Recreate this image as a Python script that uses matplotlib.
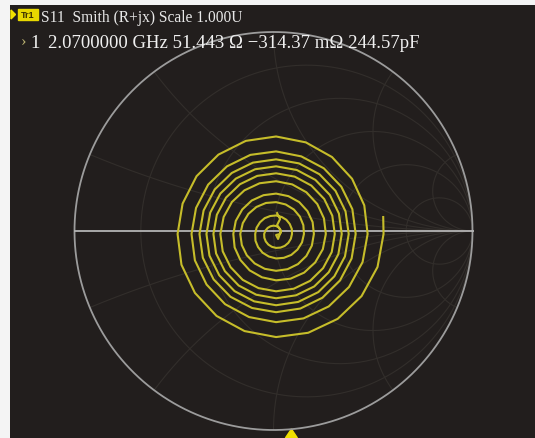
import matplotlib
matplotlib.use('Agg')
import matplotlib.pyplot as plt
from matplotlib.patches import Rectangle, Polygon
import numpy as np

# header text
trace_label = 'Tr1'
title_text = 'S11  Smith (R+jx) Scale 1.000U'
marker_no = '1'
marker_text = '2.0700000 GHz 51.443 \u03a9 \u2212314.37 m\u03a9 244.57pF'

# smith grid values
r_values = [0.2, 0.5, 1.0, 2.0, 5.0]
x_values = [0.2, 0.5, 1.0, 2.0, 5.0]

# trace: small loop at the centre (gamma re, im)
loop_re = [0.018, 0.033, 0.018, 0.038, 0.023, 0.013]
loop_im = [0.090, 0.060, 0.030, 0.000, -0.040, -0.020]

# trace: spiral, |gamma - centre| read every 18 deg, one row per turn
spiral_centre = (0.013, -0.015)
turn_angles = [0, 18, 36, 54, 72, 90, 108, 126, 144, 162,
               180, 198, 216, 234, 252, 270, 288, 306, 324, 342]
turn_radii = [
    [.020, .024, .028, .032, .036, .040, .044, .048, .052, .056,
     .060, .062, .064, .066, .068, .070, .072, .074, .076, .078],
    [.080, .083, .085, .088, .090, .093, .095, .098, .100, .103,
     .105, .109, .112, .116, .119, .123, .126, .130, .133, .137],
    [.140, .144, .148, .152, .156, .160, .164, .168, .172, .176,
     .180, .181, .182, .183, .184, .185, .186, .187, .188, .189],
    [.190, .193, .195, .198, .200, .203, .205, .208, .210, .213,
     .215, .219, .222, .226, .229, .233, .236, .240, .243, .247],
    [.250, .253, .256, .259, .262, .265, .268, .271, .274, .277,
     .280, .282, .283, .285, .286, .288, .289, .291, .292, .294],
    [.295, .297, .299, .301, .303, .305, .307, .309, .311, .313,
     .315, .317, .318, .320, .321, .323, .324, .326, .327, .329],
    [.330, .332, .334, .336, .338, .340, .342, .344, .346, .348,
     .350, .352, .353, .355, .356, .358, .359, .361, .362, .364],
    [.365, .367, .369, .371, .373, .375, .377, .379, .381, .383,
     .385, .387, .388, .390, .391, .393, .394, .396, .397, .399],
    [.400, .403, .405, .408, .410, .415, .418, .420, .422, .423,
     .425, .429, .432, .436, .439, .443, .446, .450, .453, .457],
    [.460, .466, .472, .478, .484, .490, .492, .493, .494, .494,
     .495, .500, .504, .509, .513, .518, .522, .527, .531, .536],
]
end_angle = [0, 9]
end_radius = [.540, .545]

# marker position along the bottom (gamma re)
marker_re = 0.09

bg = '#221e1d'
yellow = '#c6bd2a'

fig = plt.figure(figsize=(5.35, 4.39), dpi=100, facecolor='#f4f4f4')
W, H = 535, 439

# dark screen area
back = fig.add_axes([10 / W, 0, 1 - 10 / W, 1 - 6 / H])
back.set_facecolor(bg)
back.set_xticks([])
back.set_yticks([])
for s in back.spines.values():
    s.set_visible(False)

# smith chart axes: centre (273.5, 232) px, radius 199 px
cx, cy, rad = 273.5, 232, 199
ax = fig.add_axes([(cx - rad) / W, (H - cy - rad) / H, 2 * rad / W, 2 * rad / H])
ax.set_xlim(-1, 1)
ax.set_ylim(-1, 1)
ax.axis('off')
ax.patch.set_alpha(0)

grid_col = '#322e2b'
t = np.linspace(0, 2 * np.pi, 400)
for r in r_values:
    c = r / (1 + r)
    rr = 1 / (1 + r)
    ax.plot(c + rr * np.cos(t), rr * np.sin(t), color=grid_col, lw=0.8, clip_on=False)
rs = np.concatenate([[0], np.geomspace(1e-3, 1e3, 600)])
for x in x_values:
    for sgn in (1, -1):
        z = rs + 1j * sgn * x
        g = (z - 1) / (z + 1)
        ax.plot(g.real, g.imag, color=grid_col, lw=0.8, clip_on=False)

ax.plot(np.cos(t), np.sin(t), color='#9c9c9c', lw=1.3, clip_on=False)
ax.plot([-1, 1], [0, 0], color='#b4b4b4', lw=1.3, clip_on=False)

# trace
ang = np.deg2rad(np.array(turn_angles))
re = list(loop_re)
im = list(loop_im)
for row in turn_radii:
    rr = np.array(row)
    re += list(spiral_centre[0] + rr * np.cos(ang))
    im += list(spiral_centre[1] + rr * np.sin(ang))
ea = np.deg2rad(np.array(end_angle))
re += list(spiral_centre[0] + np.array(end_radius) * np.cos(ea))
im += list(spiral_centre[1] + np.array(end_radius) * np.sin(ea))
ax.plot(re, im, color=yellow, lw=1.5, clip_on=False, solid_joinstyle='round')

# marker triangle at bottom
ax.add_patch(Polygon([[marker_re - 0.03, -1.04], [marker_re + 0.03, -1.04], [marker_re, -0.995]],
                     closed=True, color='#f0e000', clip_on=False))

# header
fig.patches.append(Polygon([[11 / W, 1 - 11 / H], [11 / W, 1 - 20 / H], [15.5 / W, 1 - 15.5 / H]],
                           closed=True, color='#f0e000', transform=fig.transFigure))
fig.patches.append(Rectangle((18 / W, 1 - 21 / H), 20 / W, 11 / H, color='#e8d800',
                             transform=fig.transFigure))
fig.text(28 / W, 1 - 15.8 / H, trace_label, fontsize=6.5, color='#3a3000', ha='center', va='center',
         family='Liberation Sans', weight='bold')
fig.text(41 / W, 1 - 22 / H, title_text, fontsize=11.2, color='#e8e8e8', family='Liberation Serif')
fig.text(21 / W, 1 - 46 / H, '\u203a', fontsize=12, color='#b8b070', family='Liberation Serif')
fig.text(30 / W, 1 - 48 / H, marker_no, fontsize=13.5, color='#f0f0f0', family='Liberation Serif')
fig.text(48 / W, 1 - 48 / H, marker_text, fontsize=13.5, color='#f0f0f0', family='Liberation Serif')

fig.savefig('out.png', dpi=100, facecolor=fig.get_facecolor())
